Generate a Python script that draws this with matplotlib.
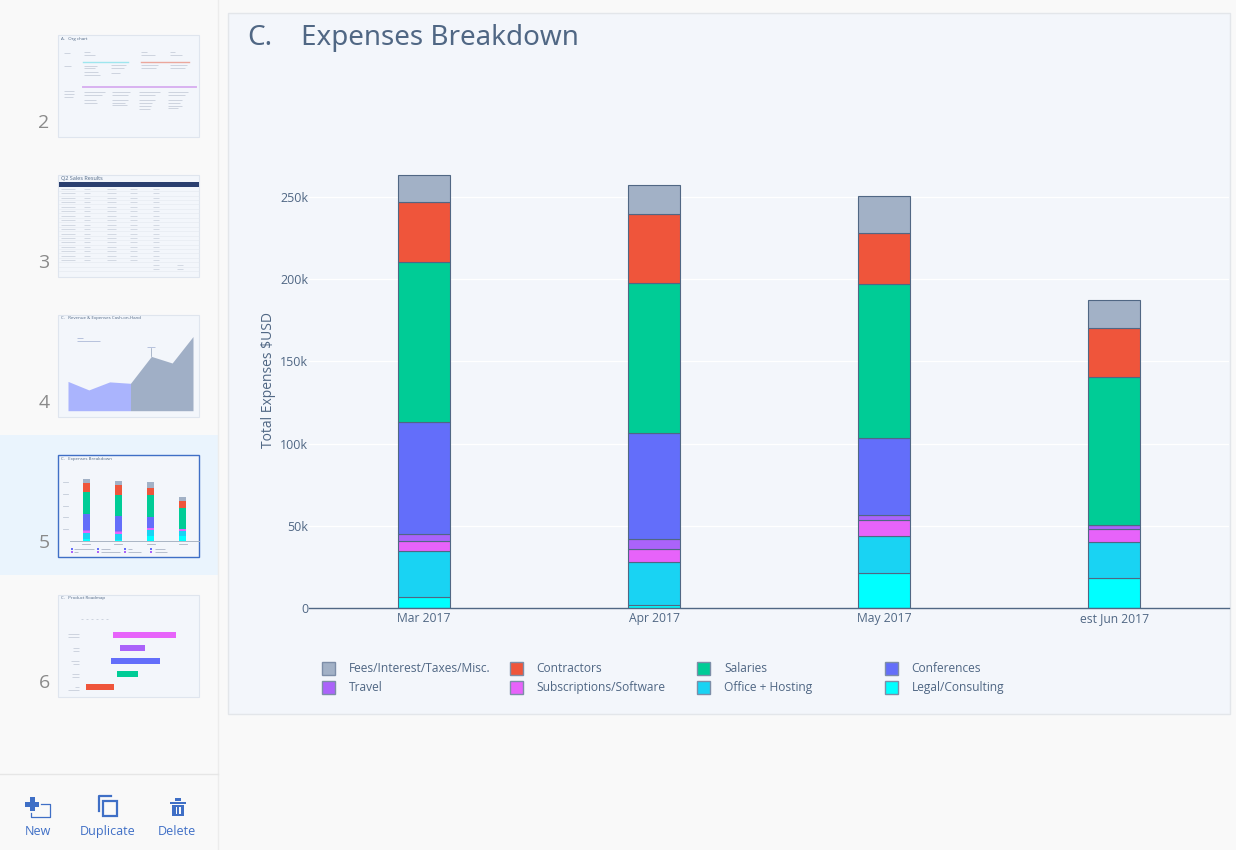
import numpy as np
import matplotlib
matplotlib.use("Agg")
import matplotlib.pyplot as plt
from matplotlib.patches import Rectangle, Polygon

W, H = 1236, 850

months = ["Mar 2017", "Apr 2017", "May 2017", "est Jun 2017"]

# expenses per month in $k, stacked from the bottom up
legal = [7.0, 2.2, 21.3, 18.2]
office = [28.0, 26.1, 22.4, 21.9]
subscriptions = [6.0, 7.9, 9.7, 8.3]
travel = [3.9, 5.7, 3.1, 2.0]
conferences = [68.2, 64.5, 46.9, 0.0]
salaries = [97.2, 90.9, 93.3, 90.0]
contractors = [36.1, 41.9, 31.0, 29.8]
fees = [16.4, 17.8, 22.6, 17.0]

stack = [legal, office, subscriptions, travel, conferences, salaries, contractors, fees]
stack_colors = ["#00ffff", "#19d3f3", "#e763fa", "#ab63fa", "#636efa", "#00cc96", "#ef553b", "#a2b1c6"]

yticks = [0, 50, 100, 150, 200, 250]
ytick_labels = ["0", "50k", "100k", "150k", "200k", "250k"]

legend_rows = [
    [("Fees/Interest/Taxes/Misc.", "#a2b1c6"), ("Contractors", "#ef553b"), ("Salaries", "#00cc96"), ("Conferences", "#636efa")],
    [("Travel", "#ab63fa"), ("Subscriptions/Software", "#e763fa"), ("Office + Hosting", "#19d3f3"), ("Legal/Consulting", "#00ffff")],
]

# thumbnails
slide_numbers = ["2", "3", "4", "5", "6"]
cash = [3.1, 2.2, 3.05, 2.9, 5.75, 5.05, 7.85]
road_start = [113, 119.5, 110.5, 117, 85.5]
road_end = [175.5, 145, 160, 137.5, 113.5]
road_colors = ["#e763fa", "#ab63fa", "#636efa", "#00cc96", "#ef553b"]

TEXT = "#506784"
BLUE = "#3f6fc6"
PANEL = "#f3f6fb"
plt.rcParams["font.family"] = ["Open Sans", "DejaVu Sans"]


def px_axes(fig, left, top, right, bottom):
    return fig.add_axes([left / W, 1 - bottom / H, (right - left) / W, (bottom - top) / H])


def dashes(bg, rows, color="#b4bdcc", lw=0.7):
    # stand-ins for the unreadable text inside the thumbnails
    for x0, x1, y in rows:
        bg.plot([x0, x1], [y, y], color=color, lw=lw, alpha=0.6, solid_capstyle="butt")


fig = plt.figure(figsize=(W / 100, H / 100), dpi=100, facecolor="#f9f9f9")

bg = fig.add_axes([0, 0, 1, 1])
bg.set_xlim(0, W)
bg.set_ylim(H, 0)
bg.axis("off")

# sidebar
bg.add_patch(Rectangle((0, 435), 218, 139.5, fc="#eaf4fd", ec="none"))
bg.plot([218, 218], [0, H], color="#ececec", lw=1)
bg.plot([0, 218], [774, 774], color="#e6e6e6", lw=1)
for i, num in enumerate(slide_numbers):
    bg.text(44, 122.5 + 140 * i, num, fontsize=14, color="#8a8a8a", ha="center", va="center")

# main panel
bg.add_patch(Rectangle((228, 13), 1002, 701, fc=PANEL, ec="#e3e6ea", lw=1))
bg.text(247, 37.5, "C.", fontsize=20, color=TEXT, va="center", family="Noto Sans")
bg.text(301, 37.5, "Expenses Breakdown", fontsize=20, color=TEXT, va="center", family="Noto Sans")

# thumbnail cards
for top in [35, 175, 315, 455, 595]:
    ec = BLUE if top == 455 else "#dfe5ee"
    bg.add_patch(Rectangle((58, top), 141, 101.5, fc=PANEL, ec=ec, lw=1 if top == 455 else 0.8, zorder=1))

# slide 2: org chart
bg.text(61, 39, "A.   Org chart", fontsize=3.2, color=TEXT, va="center")
bg.plot([83, 128], [62, 62], color="#9ee6ee", lw=1)
bg.plot([141, 189], [62, 62], color="#eba79c", lw=1)
bg.plot([83, 196], [87, 87], color="#d9b2f0", lw=1.4)
dashes(bg, [(64, 70, 53), (64, 71, 66), (84, 90, 52), (84, 95, 55), (141, 147, 52), (141, 155, 55),
            (170, 175, 52), (170, 182, 55), (84, 97, 66), (84, 95, 68), (111, 126, 65), (111, 124, 68),
            (141, 158, 65), (141, 156, 68), (170, 187, 65), (170, 185, 68), (84, 98, 72), (84, 100, 75),
            (111, 120, 73), (64, 74, 91), (64, 74, 94), (64, 73, 97), (84, 105, 92), (84, 102, 95),
            (84, 96, 100), (84, 97, 103), (112, 130, 92), (112, 128, 95), (112, 128, 100), (112, 125, 103),
            (112, 127, 105), (139, 160, 92), (139, 155, 95), (139, 155, 100), (139, 152, 103),
            (139, 151, 106), (139, 150, 109), (168, 188, 92), (168, 185, 95), (168, 182, 100),
            (168, 180, 103), (168, 182, 106), (168, 178, 108)])

# slide 3: table
bg.text(61, 178, "Q2 Sales Results", fontsize=4, color=TEXT, va="center")
bg.add_patch(Rectangle((59, 182), 140, 4.5, fc="#2a3f6f", ec="none", zorder=2))
table_cols = [(61, 75), (84, 90), (107, 116), (130, 137), (153, 159), (177, 183)]
for row in range(19):
    y = 189 + row * 4.45
    bg.plot([59, 199], [y + 2.1, y + 2.1], color="#e4e8ef", lw=0.4)
    last = 5 if row < 17 else 6
    first = 0 if row < 17 else 4
    dashes(bg, [(table_cols[c][0], table_cols[c][1], y) for c in range(first, last)], lw=0.6)

# slide 4: area chart
bg.text(61, 318.5, "C.   Revenue & Expenses Cash-on-Hand", fontsize=3.2, color=TEXT, va="center")
dashes(bg, [(77, 83, 338), (77, 100, 341), (147, 155, 347)], color="#8f9fc8")
bg.plot([151, 151], [348, 356], color="#8f9fb8", lw=0.5)
ax4 = px_axes(fig, 68, 320, 193, 410.7)
ax4.patch.set_alpha(0)
ax4.axis("off")
ax4.set_xlim(0, 6)
ax4.set_ylim(0, 9.6)
ax4.fill_between(range(4), 0, cash[:4], color="#aab4fd", lw=0)
ax4.fill_between(range(3, 7), 0, cash[3:], color="#a0afc6", lw=0)

# slide 5: this chart, small
bg.text(61, 458.5, "C.   Expenses Breakdown", fontsize=3.2, color=TEXT, va="center")
ax5 = px_axes(fig, 70.3, 465, 198.7, 540.7)
ax5.patch.set_alpha(0)
ax5.set_xlim(-0.5, 3.5)
ax5.set_ylim(0, 75.7 / (58.4 / 250))
ax5.set_yticks([])
ax5.set_xticks([])
for s in ax5.spines.values():
    s.set_visible(False)
ax5.spines["bottom"].set_visible(True)
ax5.spines["bottom"].set_color("#a9b4c4")
ax5.spines["bottom"].set_linewidth(0.7)
base = np.zeros(4)
for vals, col in zip(stack, stack_colors):
    ax5.bar(range(4), vals, width=0.22, bottom=base, color=col, lw=0)
    base = base + np.array(vals)
dashes(bg, [(74, 94, 549), (74, 78, 552), (101, 110, 549), (101, 120, 552), (128, 132, 549),
            (128, 141, 552), (155, 165, 549), (155, 167, 552)], color="#8f9bb0")
for x in [72, 98, 125, 151]:
    bg.add_patch(Rectangle((x - 1, 548), 2, 2, fc="#636efa", ec="none"))
    bg.add_patch(Rectangle((x - 1, 551), 2, 2, fc="#ab63fa", ec="none"))
for x in [86.3, 118.3, 150.7, 182.7]:
    bg.plot([x - 4, x + 4], [543.5, 543.5], color="#aab4c4", lw=0.6)
for y in [482.3, 494, 505.7, 517.4, 529]:
    bg.plot([63, 68], [y, y], color="#c4ccd8", lw=0.6)

# slide 6: roadmap
bg.text(61, 598.5, "C.   Product Roadmap", fontsize=3.2, color=TEXT, va="center")
ax6 = px_axes(fig, 58.5, 630, 199.5, 695)
ax6.patch.set_alpha(0)
ax6.axis("off")
ax6.set_xlim(58.5, 199.5)
ax6.set_ylim(4.615, -0.385)
ax6.barh(range(5), np.array(road_end) - np.array(road_start), left=road_start, height=0.42, color=road_colors, lw=0)
dashes(bg, [(81, 83, 619), (86, 88, 619), (91, 93, 619), (96, 98, 619), (101, 103, 619), (106, 108, 619),
            (68, 79, 634), (68, 79, 637), (73, 79, 648), (73, 79, 651), (71, 79, 661), (73, 79, 664),
            (72, 79, 674), (72, 79, 677), (75, 79, 687), (68, 79, 690)])

# toolbar
bg.add_patch(Rectangle((25, 802), 14, 5, fc=BLUE, ec="none"))
bg.add_patch(Rectangle((29.5, 797), 5.5, 14, fc=BLUE, ec="none"))
bg.plot([41, 50, 50, 31, 31], [803.5, 803.5, 816.5, 816.5, 813], color=BLUE, lw=0.9)
bg.add_patch(Rectangle((103, 800.5), 13.5, 15.5, fc="none", ec=BLUE, lw=1.6))
bg.plot([98.5, 98.5, 111], [811, 796, 796], color=BLUE, lw=1.6)
bg.add_patch(Rectangle((170, 801.5), 16, 2.5, fc=BLUE, ec="none"))
bg.add_patch(Rectangle((175, 798), 6, 2.5, fc=BLUE, ec="none"))
bg.add_patch(Polygon([(172, 805), (184, 805), (184, 816), (172, 816)], fc=BLUE, ec="none"))
for x in [175.5, 179]:
    bg.add_patch(Rectangle((x, 807), 1.5, 7, fc="#f9f9f9", ec="none"))
for x, lab in zip([38, 108, 177], ["New", "Duplicate", "Delete"]):
    bg.text(x, 831.5, lab, fontsize=9, color=BLUE, ha="center", va="center")

# main chart
ax = px_axes(fig, 309, 150, 1229, 608.3)
ax.patch.set_alpha(0)
ax.set_xlim(-0.5, 3.5)
ax.set_ylim(0, (608.3 - 150) / 1.647)
x = np.arange(len(months))
bottom = np.zeros(len(months))
for vals, col in zip(stack, stack_colors):
    ax.bar(x, vals, width=0.222, bottom=bottom, color=col, edgecolor=TEXT, linewidth=0.8, zorder=3)
    bottom = bottom + np.array(vals)
ax.set_xticks(x)
ax.set_xticklabels(months, fontsize=8.7, color=TEXT)
ax.set_yticks(yticks)
ax.set_yticklabels(ytick_labels, fontsize=9, color=TEXT)
ax.tick_params(axis="y", length=0, pad=0.5)
ax.tick_params(axis="x", length=0, pad=2.5)
ax.grid(axis="y", color="white", lw=0.9, zorder=0)
ax.set_axisbelow(True)
for s in ["top", "left", "right"]:
    ax.spines[s].set_visible(False)
ax.spines["bottom"].set_color(TEXT)
ax.spines["bottom"].set_linewidth(1)
ax.spines["bottom"].set_zorder(5)
bg.text(268, 379.5, "Total Expenses $USD", fontsize=10, color=TEXT, rotation=90, ha="center", va="center")

# legend laid out by hand, the columns are evenly spaced in the reference
for r, row in enumerate(legend_rows):
    y = 668 + r * 19
    for c, (name, col) in enumerate(row):
        sx = 322 + c * 187.5
        bg.add_patch(Rectangle((sx, y - 6.5), 13, 13, fc=col, ec="#7d8ea8", lw=1))
        bg.text(sx + 27, y + 0.8, name, fontsize=8.65, color=TEXT, va="center")

fig.savefig("out.png", dpi=100, facecolor=fig.get_facecolor())
